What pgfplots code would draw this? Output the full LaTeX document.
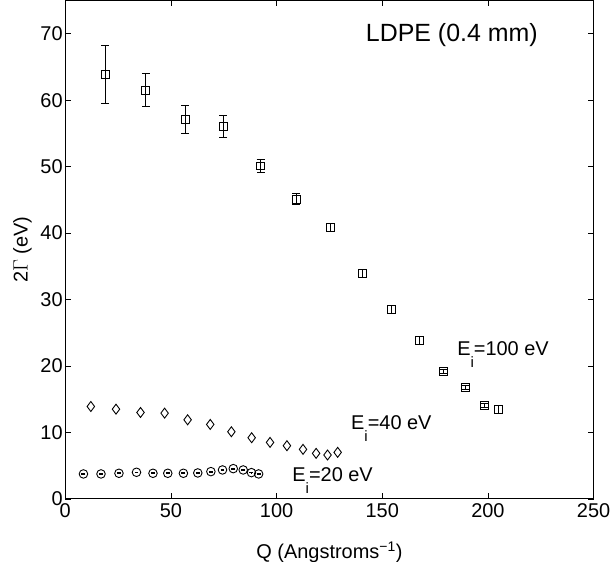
\documentclass[border=0pt]{standalone}
\usepackage{pgfplots}
\pgfplotsset{compat=1.18}
\usepackage{fontspec}
\setmainfont{Liberation Sans}

\pgfplotstableread{
x y e
18.9 63.9 4.4
38.1 61.5 2.45
56.7 57.1 2.15
74.7 56.0 1.65
92.4 50.1 1.0
109.2 45.1 0.8
125.3 40.8 0.6
140.5 33.9 0.6
154.3 28.5 0.6
167.6 23.9 0.6
178.9 19.2 0.3
189.2 16.7 0.3
198.2 14.1 0.3
205.2 13.4 0.6
}\eHundred

\pgfplotstableread{
x y
12.1 13.9
24.0 13.5
35.6 13.0
47.0 12.9
57.9 11.9
68.6 11.2
78.6 10.1
88.2 9.2
96.9 8.5
104.9 8.0
112.5 7.45
118.7 6.85
124.1 6.6
128.9 7.0
}\eForty

\pgfplotstableread{
x y e
8.6 3.75 0.05
16.9 3.75 0.05
25.4 3.85 0.05
33.7 4.0 0.05
41.5 3.85 0.05
48.5 3.85 0.05
55.9 3.85 0.05
62.7 3.9 0.05
68.9 4.1 0.05
74.4 4.35 0.05
79.5 4.55 0.05
84.2 4.35 0.05
88.1 3.95 0.05
91.5 3.75 0.05
}\eTwenty

\begin{document}
\begin{tikzpicture}
\begin{axis}[
  name=ax,
  scale only axis, width=530pt, height=500pt,
  xmin=0, xmax=250, ymin=0, ymax=75,
  xtick={0,50,...,250}, ytick={0,10,...,70},
  tick align=inside, major tick length=6pt,
  tick style={black, line width=0.6pt},
  axis line style={line width=0.8pt},
  ticklabel style={font=\fontsize{20}{24}\selectfont},
  /pgf/number format/assume math mode=true,
  yticklabel style={inner sep=1pt, xshift=-1.5pt},
  xticklabel style={inner sep=1pt, yshift=-4pt},
  every axis x label/.style={at={(axis description cs:0.5,-0.12)}, anchor=base, font=\fontsize{20}{24}\selectfont},
  every axis y label/.style={at={(axis description cs:-0.081,0.5)}, rotate=90, anchor=center, font=\fontsize{20}{24}\selectfont},
  xlabel={Q (Angstroms\textsuperscript{\char"2212 1})},
  ylabel={2$\Gamma$ (eV)},
  clip=false,
]
\addplot[only marks, black, mark=square, mark size=4pt, mark options={line width=0.9pt},
  error bars/.cd, y dir=both, y explicit,
  error bar style={line width=0.9pt},
  error mark options={rotate=90, mark size=4pt, line width=0.9pt}]
  table[x=x, y=y, y error=e] {\eHundred};
\addplot[only marks, black, mark=diamond, mark size=5pt, mark options={line width=0.9pt}]
  table[x=x, y=y] {\eForty};
\addplot[only marks, black, mark=o, mark size=4.3pt, mark options={line width=0.9pt},
  error bars/.cd, y dir=both, y explicit,
  error bar style={line width=0.9pt},
  error mark options={rotate=90, mark size=2pt, line width=0.9pt}]
  table[x=x, y=y, y error=e] {\eTwenty};
\node[anchor=base west, inner sep=0pt, font=\fontsize{25}{30}\selectfont] at (axis cs:142.2,68.85) {LDPE (0.4 mm)};
\node[anchor=base west, inner sep=0pt, font=\fontsize{20}{24}\selectfont] at (axis cs:185.4,21.5) {E\raisebox{-12pt}{\fontsize{15}{15}\selectfont i}=100 eV};
\node[anchor=base west, inner sep=0pt, font=\fontsize{20}{24}\selectfont] at (axis cs:135.2,10.5) {E\raisebox{-12pt}{\fontsize{15}{15}\selectfont i}=40 eV};
\node[anchor=base west, inner sep=0pt, font=\fontsize{20}{24}\selectfont] at (axis cs:107.4,2.55) {E\raisebox{-12pt}{\fontsize{15}{15}\selectfont i}=20 eV};
\end{axis}
\pgfresetboundingbox
\path ([shift={(-65.5pt,-63pt)}]ax.south west) rectangle ([shift={(17.5pt,0.5pt)}]ax.north east);
\end{tikzpicture}
\end{document}
